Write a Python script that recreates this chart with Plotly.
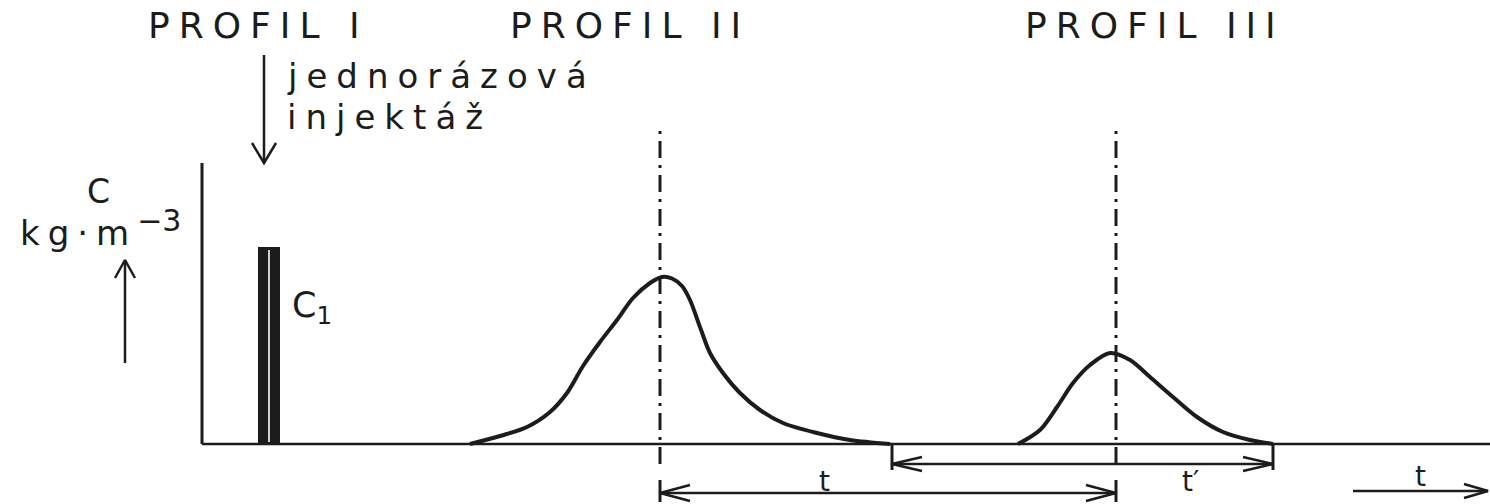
import math
import plotly.graph_objects as go

INK = "#1c1c1c"
FONT = "DejaVu Sans"

# ---------------- data (time units horizontally, concentration units vertically) ----------------
pulse_t = 6.7          # single injection at PROFIL I
pulse_c = 19.7         # C1
pulse_w = 2.2
injection_t = 6.2
injection_top = 38.9

peak1_t = [26.8, 29.8, 32.5, 34.8, 36.5, 38.1, 39.8, 41.5, 43.1, 44.8, 46.0, 47.0, 48.0, 48.8,
           49.8, 50.8, 52.1, 53.8, 55.8, 58.1, 61.5, 64.8, 68.8]
peak1_c = [0, 0.8, 1.7, 3.2, 5.1, 7.8, 10.2, 12.4, 14.6, 16.1, 16.7, 16.55, 15.8, 14.4,
           11.7, 9.1, 7.1, 5.1, 3.4, 2.1, 1.1, 0.4, 0]

peak2_t = [81.6, 83.8, 85.5, 87.1, 88.8, 90.8, 92.8, 94.8, 97.1, 99.5, 102.1, 104.8, 107.1]
peak2_c = [0, 1.4, 3.7, 6.1, 7.9, 9.1, 8.4, 6.7, 4.7, 2.7, 1.2, 0.4, 0]

profile_labels = ["PROFIL I", "PROFIL II", "PROFIL III"]
profile_label_t = [5.6, 42.8, 95.3]
centroid_t = [45.8, 91.4]       # dash-dot lines at PROFIL II and III
centroid_top = 31.4
end_t = [69.0, 107.1]           # ends of the passages
t_axis_max = 128.8
c_axis_max = 28.1
c_arrow = [8.1, 18.4]           # the "C grows" arrow
c_arrow_t = -7.7
t_arrow_start = 115.1

X_RANGE = [-20.2, 128.8]
Y_RANGE = [-6.0, 44.4]
PX = 10.0  # pixels per data unit (both axes)


def spaced(txt, ls=10):
    return f'<span style="letter-spacing:{ls}px">{txt}</span>'


fig = go.Figure()


def line(x, y, width=2.5, dash=None, shape="linear", color=INK, smoothing=1.0):
    fig.add_trace(go.Scatter(x=x, y=y, mode="lines", hoverinfo="skip",
                             line=dict(color=color, width=width, dash=dash, shape=shape,
                                       smoothing=smoothing)))


def head(x, y, ux, uy, length, half):
    """Open V arrow head with its tip at (x, y), pointing along (ux, uy)."""
    L, H = length / PX, half / PX
    px_, py_ = -uy, ux
    bx, by = x - ux * L, y - uy * L
    line([bx + px_ * H, x, bx - px_ * H], [by + py_ * H, y, by - py_ * H], width=2.5)


def arrow(x0, y0, x1, y1, length, half, both=False, width=2.5):
    line([x0, x1], [y0, y1], width=width)
    d = math.hypot(x1 - x0, y1 - y0)
    ux, uy = (x1 - x0) / d, (y1 - y0) / d
    head(x1, y1, ux, uy, length, half)
    if both:
        head(x0, y0, -ux, -uy, length, half)


# axes drawn by hand
line([0, 0], [0, c_axis_max], width=3)
line([0, t_axis_max], [0, 0], width=2.5)

# injection pulse C1
fig.add_trace(go.Bar(x=[pulse_t], y=[pulse_c], width=[pulse_w],
                     marker=dict(color=INK, line=dict(width=0)), hoverinfo="skip"))
line([pulse_t, pulse_t], [0.2, pulse_c - 0.3], width=1.6, color="white")

# concentration curves
line(peak1_t, peak1_c, width=4, shape="spline", smoothing=0.9)
line(peak2_t, peak2_c, width=4, shape="spline", smoothing=0.9)

# dash-dot centroid lines
for tc in centroid_t:
    line([tc, tc], [-2.0, centroid_top], width=3, dash="17px,7px,3px,7px")

# end ticks of t' bracket
for te in end_t:
    line([te, te], [0, -2.6], width=3)
# end ticks of lower t arrow
for tc in centroid_t:
    line([tc, tc], [-3.6, -5.8], width=3)

# arrows
arrow(injection_t, injection_top, injection_t, c_axis_max, 20, 12)          # injection
arrow(c_arrow_t, c_arrow[0], c_arrow_t, c_arrow[1], 18, 10)                 # C increasing
arrow(end_t[0], -2.0, end_t[1], -2.0, 30, 7, both=True)                     # t'
arrow(centroid_t[0], -4.9, centroid_t[1], -4.9, 30, 8, both=True)           # t
arrow(t_arrow_start, -4.7, t_axis_max - 0.2, -4.7, 24, 7)                   # t direction

ann = []


def text(x, y, s, size, xanchor="center", yanchor="middle"):
    ann.append(dict(x=x, y=y, xref="x", yref="y", text=s, showarrow=False,
                    xanchor=xanchor, yanchor=yanchor,
                    font=dict(family=FONT, size=size, color=INK)))


for lab, tx in zip(profile_labels, profile_label_t):
    text(tx, 41.85, spaced(lab, 9), 36)

text(8.3, 36.84, spaced("jednorázová", 9), 34, xanchor="left")
text(8.3, 32.74, spaced("injektáž", 9), 34, xanchor="left")
text(-10.4, 25.25, "C", 33)
text(-18.4, 18.9, spaced("kg·m", 8) + '<sup><span style="font-size:30px">−3</span></sup>', 34,
     xanchor="left", yanchor="bottom")
text(8.8, 16.06, "C<sub>1</sub>", 35, xanchor="left", yanchor="top")
text(62.2, -1.9, "t", 28, yanchor="top")
text(97.8, -1.9, "t′", 28, xanchor="left", yanchor="top")
text(121.8, -1.4, "t", 28, yanchor="top")

fig.update_layout(
    width=1490, height=504,
    margin=dict(l=0, r=0, t=0, b=0),
    paper_bgcolor="white", plot_bgcolor="white",
    showlegend=False, hovermode=False,
    xaxis=dict(range=X_RANGE, visible=False, fixedrange=True),
    yaxis=dict(range=Y_RANGE, visible=False, fixedrange=True),
    annotations=ann,
)

fig.write_html("out.html", config={"displayModeBar": False},
               post_script="document.body.style.margin='0';document.body.style.overflow='hidden';")
